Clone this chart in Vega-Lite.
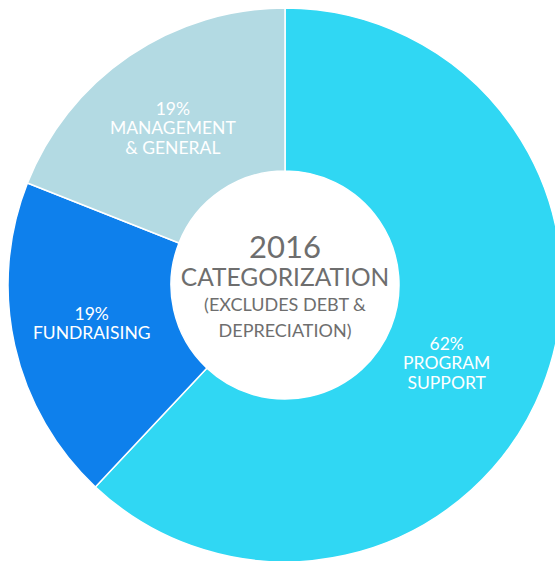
{
  "$schema": "https://vega.github.io/schema/vega-lite/v6.json",
  "width": 570,
  "height": 570,
  "padding": 0,
  "autosize": {"type": "none"},
  "background": "white",
  "config": {"view": {"stroke": null}},
  "data": {
    "values": [
      {"category": "Program Support", "value": 62, "rank": 1, "label": "62%\nPROGRAM\nSUPPORT"},
      {"category": "Fundraising", "value": 19, "rank": 2, "label": "19%\nFUNDRAISING"},
      {"category": "Management & General", "value": 19, "rank": 3, "label": "19%\nMANAGEMENT\n& GENERAL"}
    ]
  },
  "layer": [
    {
      "mark": {"type": "arc", "outerRadius": 277, "innerRadius": 114, "stroke": "white", "strokeWidth": 1.5},
      "encoding": {
        "theta": {"field": "value", "type": "quantitative", "stack": true},
        "order": {"field": "rank", "type": "quantitative"},
        "color": {
          "field": "category",
          "type": "nominal",
          "scale": {
            "domain": ["Program Support", "Fundraising", "Management & General"],
            "range": ["#30D7F3", "#0E80EC", "#B3DAE3"]
          },
          "legend": null
        }
      }
    },
    {
      "mark": {"type": "text", "radius": 196, "dy": -13, "dx": -2, "font": "Lato", "fontSize": 17.5, "lineHeight": 19.5, "lineBreak": "\n", "color": "white", "align": "center", "baseline": "middle"},
      "encoding": {
        "theta": {"field": "value", "type": "quantitative", "stack": true},
        "order": {"field": "rank", "type": "quantitative"},
        "text": {"condition": {"test": "datum.category !== 'Program Support'", "field": "label"}, "value": ""}
      }
    },
    {
      "mark": {"type": "text", "radius": 176, "dy": -5, "dx": -2, "font": "Lato", "fontSize": 17.5, "lineHeight": 19.5, "lineBreak": "\n", "color": "white", "align": "center", "baseline": "middle"},
      "encoding": {
        "theta": {"field": "value", "type": "quantitative", "stack": true},
        "order": {"field": "rank", "type": "quantitative"},
        "text": {"condition": {"test": "datum.category === 'Program Support'", "field": "label"}, "value": ""}
      }
    },
    {
      "data": {"values": [{"t": "2016"}]},
      "mark": {"type": "text", "font": "Lato", "fontSize": 31, "color": "#6E6E6E", "align": "center", "baseline": "middle", "dy": -36},
      "encoding": {"text": {"field": "t", "type": "nominal"}}
    },
    {
      "data": {"values": [{"t": "CATEGORIZATION"}]},
      "mark": {"type": "text", "font": "Lato", "fontSize": 24.5, "color": "#6E6E6E", "align": "center", "baseline": "middle", "dy": -6},
      "encoding": {"text": {"field": "t", "type": "nominal"}}
    },
    {
      "data": {"values": [{"t": "(EXCLUDES DEBT &"}]},
      "mark": {"type": "text", "font": "Lato", "fontSize": 18, "color": "#6E6E6E", "align": "center", "baseline": "middle", "dy": 21},
      "encoding": {"text": {"field": "t", "type": "nominal"}}
    },
    {
      "data": {"values": [{"t": "DEPRECIATION)"}]},
      "mark": {"type": "text", "font": "Lato", "fontSize": 18, "color": "#6E6E6E", "align": "center", "baseline": "middle", "dy": 47},
      "encoding": {"text": {"field": "t", "type": "nominal"}}
    }
  ]
}
